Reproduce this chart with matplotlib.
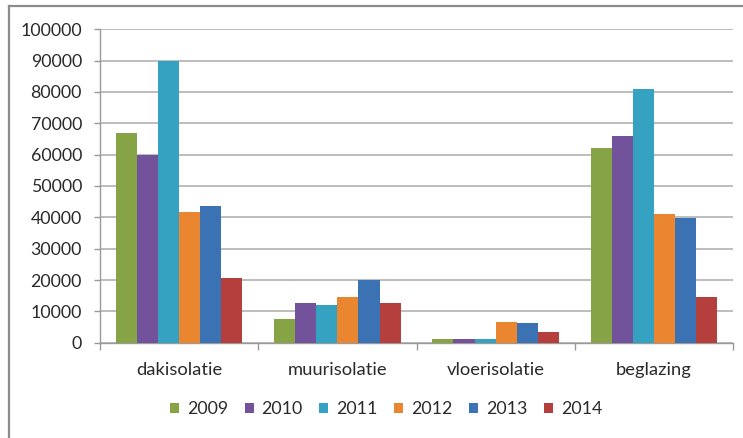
import matplotlib
matplotlib.use("Agg")
import matplotlib.pyplot as plt
from matplotlib.lines import Line2D
from matplotlib.patches import Patch
import numpy as np

categories = ["dakisolatie", "muurisolatie", "vloerisolatie", "beglazing"]
years = ["2009", "2010", "2011", "2012", "2013", "2014"]
values = {
    "2009": [67000, 7600, 1100, 62000],
    "2010": [60000, 12800, 1300, 66000],
    "2011": [90000, 11900, 1300, 81000],
    "2012": [41800, 14700, 6600, 41000],
    "2013": [43700, 20000, 6300, 39700],
    "2014": [20800, 12800, 3500, 14700],
}
colors = ["#86a345", "#71529b", "#35a2c2", "#ea8530", "#3b72b4", "#b43f3c"]
yticks = [0, 10000, 20000, 30000, 40000, 50000, 60000, 70000, 80000, 90000, 100000]

plt.rcParams["font.family"] = ["Lato", "DejaVu Sans"]

W, H = 743, 438
fig = plt.figure(figsize=(W / 100, H / 100), dpi=100)
ax = fig.add_axes([100 / W, 1 - 342.7 / H, 633 / W, (342.7 - 29.3) / H])

n = len(years)
bw = 1 / 7.5
x = np.arange(len(categories))
for i, yr in enumerate(years):
    ax.bar(x + (i - (n - 1) / 2) * bw, values[yr], width=bw, color=colors[i],
           zorder=3, linewidth=0, label=yr)

ax.set_xlim(-0.5, len(categories) - 0.5)
ax.set_ylim(0, 100000)
ax.set_yticks(yticks)
ax.set_yticklabels([str(v) for v in yticks], fontsize=12.8, color="#2a2a2a")
ax.yaxis.grid(True, color="#bdbdbd", linewidth=1.4, zorder=0)
ax.tick_params(axis="y", length=4, color="#9a9a9a", width=1, pad=9)

ax.set_xticks(x)
ax.set_xticklabels(categories, fontsize=13.2, color="#2a2a2a")
ax.tick_params(axis="x", length=0, pad=14)
ax.set_xticks(np.arange(-0.5, len(categories)), minor=True)
ax.tick_params(axis="x", which="minor", length=5, color="#9a9a9a", width=1)

for side in ["top", "right"]:
    ax.spines[side].set_visible(False)
ax.spines["left"].set_color("#9a9a9a")
ax.spines["bottom"].set_color("#9a9a9a")
ax.spines["left"].set_linewidth(1)
ax.spines["bottom"].set_linewidth(1)

handles = [Patch(facecolor=c, edgecolor="none") for c in colors]
fig.legend(handles, years, loc="center", bbox_to_anchor=(386 / W, 1 - 409 / H),
           ncol=6, frameon=False, prop={"size": 12.8}, handlelength=0.5,
           handleheight=0.5, handletextpad=0.45, columnspacing=0.93)
for t in fig.legends[0].get_texts():
    t.set_color("#2a2a2a")

# chart frame
fig.add_artist(Line2D([9 / W, 9 / W], [0, 1 - 6 / H], color="#8c8c8c", linewidth=1.6,
                      transform=fig.transFigure))
fig.add_artist(Line2D([9 / W, 1], [1 - 6 / H, 1 - 6 / H], color="#8c8c8c", linewidth=1.6,
                      transform=fig.transFigure))

fig.savefig("out.png", dpi=100, facecolor="white")
